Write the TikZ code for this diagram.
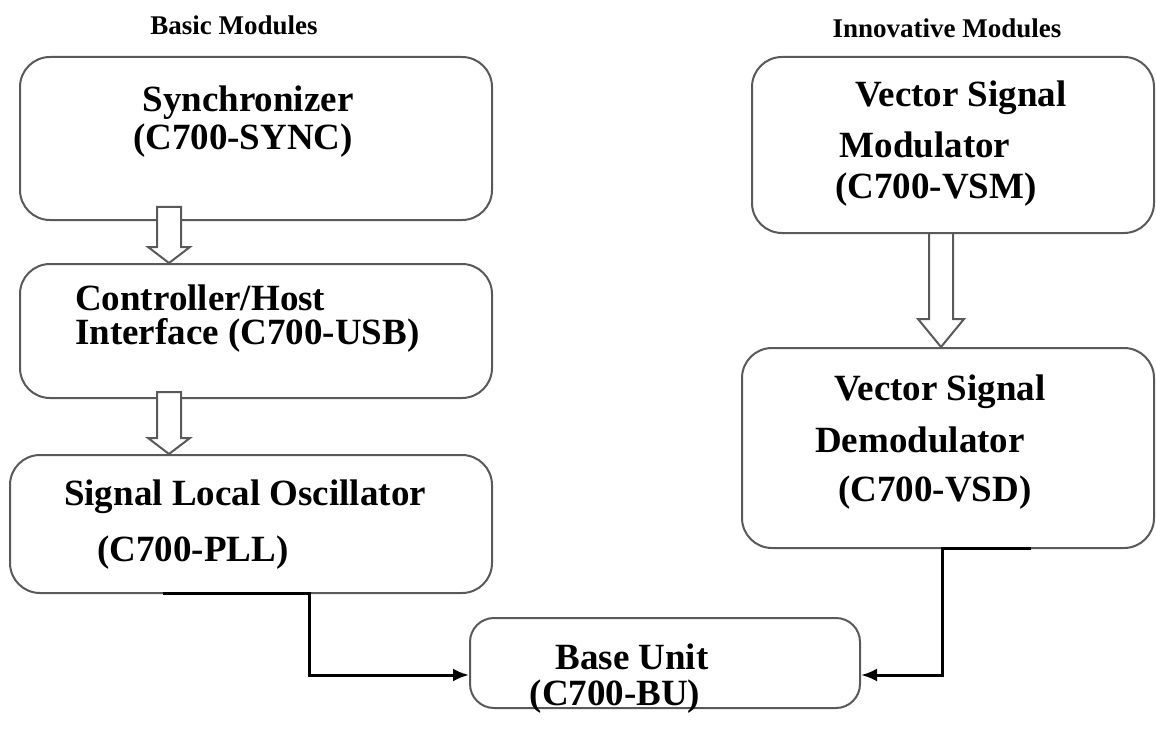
\documentclass[tikz,border=0pt]{standalone}
\usepackage{fontspec}
\setmainfont{Liberation Serif}
\usetikzlibrary{calc}
\usetikzlibrary{arrows.meta}

\tikzset{
  modbox/.style={draw=black!65, line width=2pt, rounded corners=30pt, fill=white},
  modtext/.style={font=\fontsize{37}{44}\selectfont\bfseries, inner sep=0pt},
  headtext/.style={font=\fontsize{27}{32}\selectfont\bfseries, inner sep=0pt},
  hollow/.style={draw=black!65, line width=2pt, fill=white, line join=miter},
  conn/.style={draw=black, line width=3pt, -{Latex[length=16pt,width=13pt]}}
}

% hollow block arrow: top, tip, head length, head half width
\newcommand{\hollowarrow}[4]{%
  \filldraw[hollow] ($(#1)+(-12,0)$) -- ($(#2)+(-12,-#3)$) -- ($(#2)+(-#4,-#3)$) -- (#2)
    -- ($(#2)+(#4,-#3)$) -- ($(#2)+(12,-#3)$) -- ($(#1)+(12,0)$) -- cycle;}

\begin{document}
\begin{tikzpicture}[x=1pt, y=-1pt]
  \useasboundingbox (0,0) rectangle (1156,738);

  % headings
  \node [headtext] (basic) at (234,25) {Basic Modules};
  \node [headtext] (innov) at (947,28) {Innovative Modules};

  % basic modules
  \node [modbox, minimum width=472pt, minimum height=163pt] (sync) at (256,138.5) {};
  \node [modbox, minimum width=472pt, minimum height=134pt] (usb) at (256,331) {};
  \node [modbox, minimum width=482pt, minimum height=138pt] (pll) at (251,524) {};

  \node [modtext] (synct1) at (248,103) {Synchronizer};
  \node [modtext] (synct2) at (243,141) {(C700-SYNC)};
  \node [modtext, anchor=west] (usbt1) at (75,298) {Controller/Host};
  \node [modtext, anchor=west] (usbt2) at (75,335) {Interface (C700-USB)};
  \node [modtext] (pllt1) at (245,497) {Signal Local Oscillator};
  \node [modtext] (pllt2) at (193,553) {(C700-PLL)};

  % innovative modules
  \node [modbox, minimum width=402pt, minimum height=176pt] (vsm) at (953,145) {};
  \node [modbox, minimum width=412pt, minimum height=200pt] (vsd) at (948,448) {};

  \node [modtext] (vsmt1) at (961,98) {Vector Signal};
  \node [modtext] (vsmt2) at (925,145) {Modulator};
  \node [modtext] (vsmt3) at (936,190) {(C700-VSM)};
  \node [modtext] (vsdt1) at (940,392) {Vector Signal};
  \node [modtext] (vsdt2) at (920,440) {Demodulator};
  \node [modtext] (vsdt3) at (935,493) {(C700-VSD)};

  % base unit
  \node [modbox, rounded corners=24pt, minimum width=390pt, minimum height=90pt] (bu) at (665,663) {};
  \node [modtext] (but1) at (632,657) {Base Unit};
  \node [modtext] (but2) at (615,697) {(C700-BU)};

  % block arrows
  \coordinate (a1) at (169,207);
  \coordinate (a2) at (169,392);
  \coordinate (a3) at (941,233);
  \hollowarrow{a1}{usb.north -| a1}{16}{21}
  \hollowarrow{a2}{pll.north -| a2}{16}{21}
  \hollowarrow{a3}{vsd.north -| a3}{28}{23}

  % connectors to base unit
  \coordinate (pllout) at (163,593);
  \coordinate (plldrop) at (309,593);
  \coordinate (vsdout) at (1031,548);
  \coordinate (vsddrop) at (942,548);
  \draw [conn] (pllout) -- (plldrop) |- ([yshift=-12pt]bu.west);
  \draw [conn] (vsdout) -- (vsddrop) |- ([yshift=-12pt]bu.east);
\end{tikzpicture}
\end{document}
